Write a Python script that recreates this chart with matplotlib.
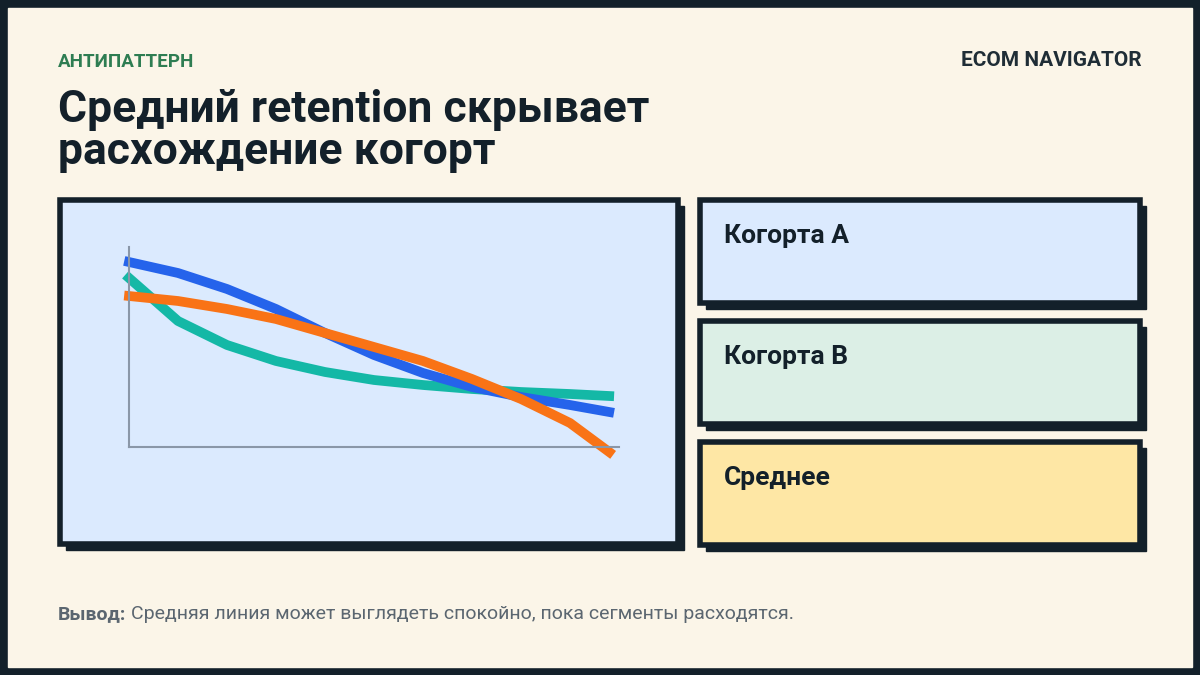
import matplotlib.pyplot as plt
from matplotlib.patches import Rectangle

plt.rcParams['font.family'] = ['Roboto', 'DejaVu Sans']

# retention curves (x = share of period, y = retention)
months = [0, 0.1, 0.2, 0.3, 0.4, 0.5, 0.6, 0.7, 0.8, 0.9, 0.98]
cohort_a = [0.925, 0.87, 0.79, 0.69, 0.57, 0.46, 0.37, 0.30, 0.25, 0.21, 0.175]
cohort_b = [0.845, 0.63, 0.51, 0.43, 0.375, 0.335, 0.31, 0.29, 0.275, 0.265, 0.255]
average = [0.755, 0.73, 0.69, 0.64, 0.57, 0.50, 0.43, 0.34, 0.24, 0.12, -0.025]
cards = ['Когорта A', 'Когорта B', 'Среднее']
card_colors = ['#dbeafe', '#dcefe6', '#fee7a5']

dark = '#13202a'
fig = plt.figure(figsize=(12, 6.75), dpi=100)
fig.patch.set_facecolor(dark)
bg = fig.add_axes([0, 0, 1, 1])
bg.set_xlim(0, 1200)
bg.set_ylim(675, 0)
bg.axis('off')
bg.add_patch(Rectangle((8, 8), 1184, 659, color='#fbf5e8'))


def box(x, y, w, h, color):
    bg.add_patch(Rectangle((x + 6, y + 6), w, h, color=dark))
    bg.add_patch(Rectangle((x, y), w, h, facecolor=color, edgecolor=dark, linewidth=4))


bg.text(58, 62, 'АНТИПАТТЕРН', color='#2e7d52', fontsize=13.5, fontweight='bold', va='center')
bg.text(1142, 61, 'ECOM NAVIGATOR', color='#1f2d36', fontsize=15, fontweight='bold',
        va='center', ha='right')
bg.text(58, 131, 'Средний retention скрывает\nрасхождение когорт', color=dark, fontsize=32,
        fontweight='bold', va='center', linespacing=1.0)

box(60, 200, 618, 344, '#dbeafe')
for i, (name, col) in enumerate(zip(cards, card_colors)):
    y = 200 + i * 121
    box(700, y, 440, 103, col)
    bg.text(724, y + 36, name, color=dark, fontsize=19, fontweight='bold', va='center')

bg.text(58, 614, 'Вывод:', color='#5b6670', fontsize=14, fontweight='bold', va='center')
bg.text(131, 614, 'Средняя линия может выглядеть спокойно, пока сегменты расходятся.',
        color='#5b6670', fontsize=14, va='center')

ax = fig.add_axes([129 / 1200, 1 - 447 / 675, 490 / 1200, 200 / 675])
ax.set_xlim(0, 1)
ax.set_ylim(0, 1)
ax.patch.set_alpha(0)
for s in ['top', 'right']:
    ax.spines[s].set_visible(False)
for s in ['left', 'bottom']:
    ax.spines[s].set_color('#8a97a8')
    ax.spines[s].set_linewidth(1.5)
ax.set_xticks([])
ax.set_yticks([])
ax.plot(months, cohort_b, color='#14b8a6', lw=7, clip_on=False)
ax.plot(months, cohort_a, color='#2563eb', lw=7, clip_on=False)
ax.plot(months, average, color='#f97316', lw=7, clip_on=False)

fig.savefig('out.png')
